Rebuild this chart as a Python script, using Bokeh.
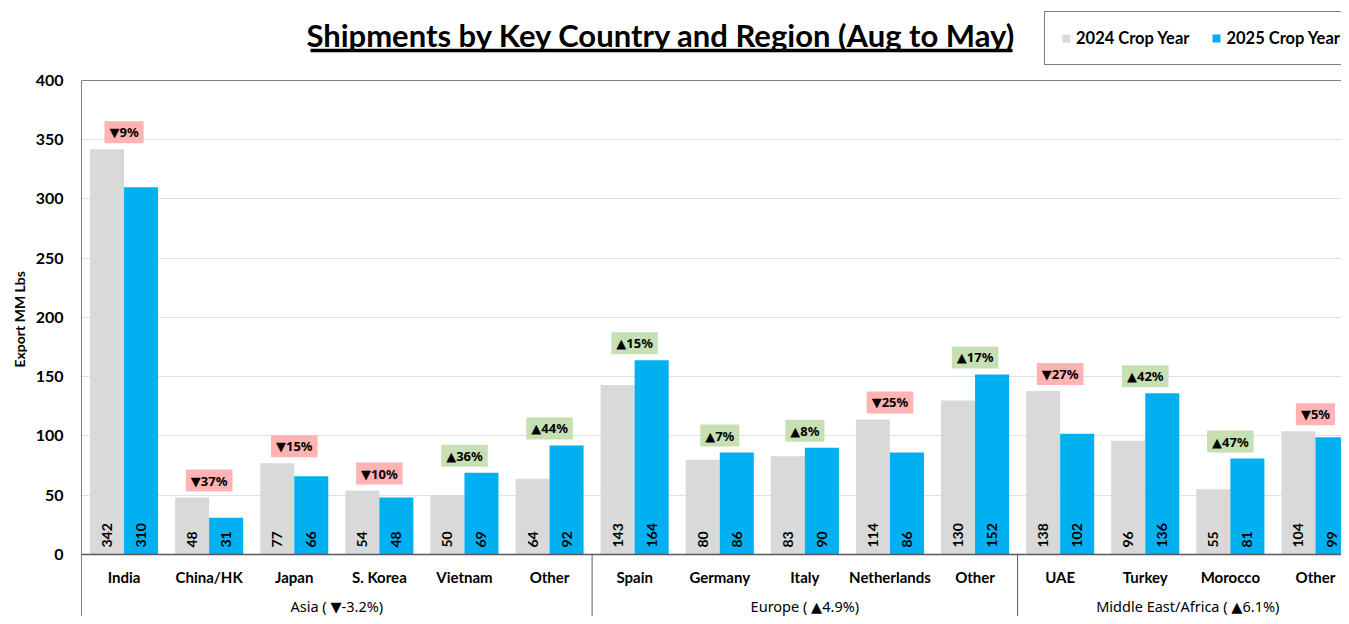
import numpy as np
from bokeh.plotting import figure
from bokeh.models import ColumnDataSource, FixedTicker, Span, Title, Range1d
from bokeh.core.properties import value
from bokeh.embed import file_html
from bokeh.resources import INLINE

# ---------------- data ----------------
categories = ["India", "China/HK", "Japan", "S. Korea", "Vietnam", "Other",
              "Spain", "Germany", "Italy", "Netherlands", "Other",
              "UAE", "Turkey", "Morocco", "Other"]
crop_2024 = [342, 48, 77, 54, 50, 64, 143, 80, 83, 114, 130, 138, 96, 55, 104]
crop_2025 = [310, 31, 66, 48, 69, 92, 164, 86, 90, 86, 152, 102, 136, 81, 99]
change_labels = ["▼9%", "▼37%", "▼15%", "▼10%", "▲36%", "▲44%",
                 "▲15%", "▲7%", "▲8%", "▼25%", "▲17%",
                 "▼27%", "▲42%", "▲47%", "▼5%"]
groups = ["Asia ( ▼-3.2%)", "Europe ( ▲4.9%)", "Middle East/Africa ( ▲6.1%)"]
group_sizes = [6, 5, 4]
y_ticks = [0, 50, 100, 150, 200, 250, 300, 350, 400]
series_names = ["2024 Crop Year", "2025 Crop Year"]
title_text = "Shipments by Key Country and Region (Aug to May)"
y_title = "Export MM Lbs"

# ---------------- style ----------------
FONT = "Lato"
SYM_FONT = "Noto Sans, DejaVu Sans"
GRAY = "#D9D9D9"
BLUE = "#00B0F0"
DOWN_BG = "#FFB3B3"
UP_BG = "#C6E0B4"

n = len(categories)
centers = np.arange(n) + 0.5
bar_w = 0.4

p = figure(width=1341, height=616, output_backend="svg", toolbar_location=None,
           x_range=Range1d(0, 14.806), y_range=Range1d(-52.32, 467.5),
           x_axis_type=None,
           min_border_left=81, min_border_right=0, min_border_top=0, min_border_bottom=0)
p.outline_line_color = None
p.background_fill_color = "white"
p.border_fill_color = "white"

# y axis
yax = p.yaxis[0]
yax.ticker = FixedTicker(ticks=y_ticks)
yax.bounds = (-52.3, 400)
yax.axis_line_color = "#808080"
yax.axis_line_width = 1
yax.major_tick_line_color = None
yax.minor_tick_line_color = None
yax.major_tick_out = 0
yax.major_tick_in = 0
yax.major_label_standoff = 18
yax.major_label_text_font = FONT
yax.major_label_text_font_style = "bold"
yax.major_label_text_font_size = "16px"
yax.major_label_text_color = "black"

p.ygrid.ticker = FixedTicker(ticks=y_ticks[1:-1])
p.ygrid.grid_line_color = "#E0E0E0"
p.ygrid.grid_line_width = 1
p.xgrid.visible = False

p.add_layout(Title(text=y_title, align="left", offset=249, text_font=FONT,
                   text_font_style="bold", text_font_size="14px", text_color="black"), "left")

# frame line on top
p.add_layout(Span(location=400, dimension="width", line_color="#808080", line_width=1))

src = ColumnDataSource(dict(
    x24=centers - bar_w / 2, x25=centers + bar_w / 2, xc=centers,
    y24=crop_2024, y25=crop_2025,
    t24=[str(v) for v in crop_2024], t25=[str(v) for v in crop_2025],
    ymax=[max(a, b) for a, b in zip(crop_2024, crop_2025)],
    chg=change_labels,
    bg=[DOWN_BG if s.startswith("▼") else UP_BG for s in change_labels],
    cat=categories,
))

p.vbar(x="x24", top="y24", bottom=0, width=bar_w, source=src, fill_color=GRAY,
       line_color=None, legend_label=series_names[0])
p.vbar(x="x25", top="y25", bottom=0, width=bar_w, source=src, fill_color=BLUE,
       line_color=None, legend_label=series_names[1])

p.add_layout(Span(location=0, dimension="width", line_color="#595959", line_width=1.5))

# value labels inside bars (rotated)
for xcol, tcol in (("x24", "t24"), ("x25", "t25")):
    p.text(x=xcol, y=0, text=tcol, source=src, angle=np.pi / 2, text_align="left",
           text_baseline="middle", y_offset=-7, text_font=value(FONT),
           text_font_style="bold", text_font_size="14px", text_color="black")

# change boxes
p.text(x="xc", y="ymax", text="chg", source=src, text_align="center", text_baseline="middle",
       y_offset=-17, text_font=value(SYM_FONT), text_font_style="bold", text_font_size="13px",
       text_color="black", background_fill_color="bg",
       padding=dict(left=5, right=5, top=2, bottom=2))

# category labels
p.text(x="xc", y=-18.6, text="cat", source=src, text_align="center", text_baseline="middle",
       text_font=value(FONT), text_font_style="bold", text_font_size="15px", text_color="black")

# group labels and separators
bounds = np.cumsum([0] + group_sizes)
gx = [(bounds[i] + bounds[i + 1]) / 2 for i in range(len(groups))]
p.text(x=gx, y=[-43.2] * len(groups), text=groups, text_align="center", text_baseline="middle",
       text_font=value(SYM_FONT), text_font_style="normal", text_font_size="14.5px", text_color="black")
sep = list(bounds[1:-1])
p.segment(x0=sep, y0=[0] * len(sep), x1=sep, y1=[-52.3] * len(sep), line_color="#595959", line_width=1)

# title with underline
title_x = 6.815
p.text(x=[title_x], y=[438.8], text=[title_text], text_align="center", text_baseline="middle",
       text_font=value(FONT), text_font_style="bold", text_font_size="31px", text_color="black")
p.segment(x0=[2.691], y0=[425.3], x1=[10.94], y1=[425.3], line_color="black", line_width=3.5)

# legend
lg = p.legend[0]
lg.location = (963, 551)
lg.orientation = "horizontal"
lg.margin = 0
lg.padding = 16
lg.spacing = 22
lg.glyph_width = 10
lg.glyph_height = 10
lg.label_standoff = 5
lg.label_height = 17
lg.label_text_font = FONT
lg.label_text_font_style = "bold"
lg.label_text_font_size = "16.5px"
lg.label_text_color = "black"
lg.border_line_color = "black"
lg.border_line_width = 1
lg.background_fill_color = "white"

open("out.html", "w").write(file_html(p, INLINE))
